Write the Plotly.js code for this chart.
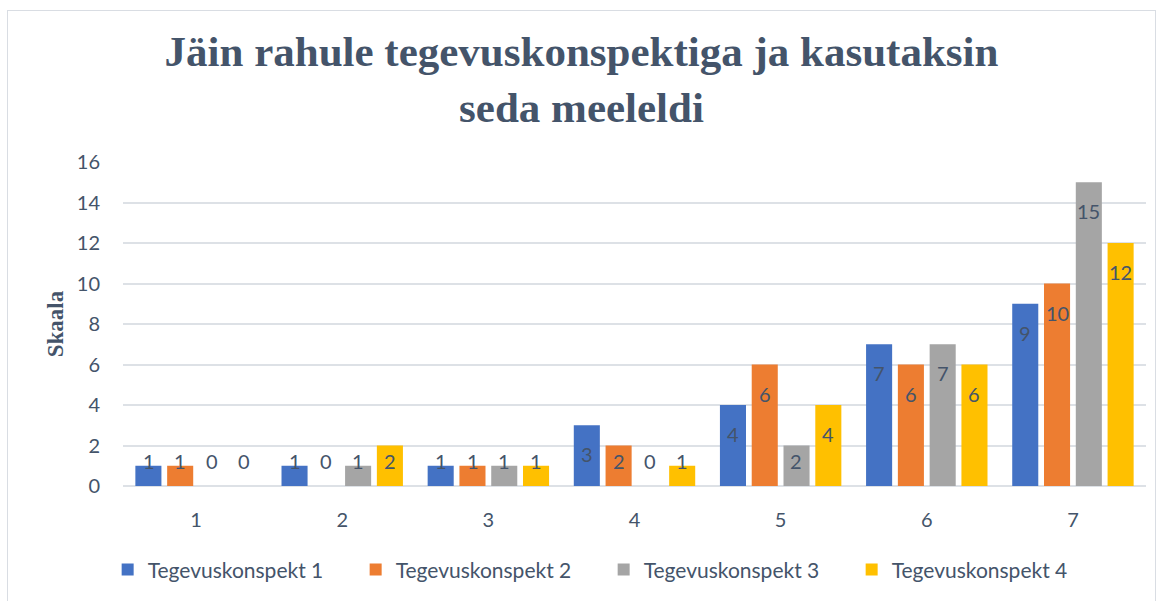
<!DOCTYPE html>
<html>
<head>
<meta charset="utf-8">
<script src="https://cdn.plot.ly/plotly-3.0.1.min.js"></script>
<style>
html,body{margin:0;padding:0;background:#fff;}
#frame{position:absolute;left:7px;top:10px;width:1149px;height:600px;border:1px solid #d9dde3;box-sizing:border-box;}
#chart{position:absolute;left:0;top:0;width:1163px;height:601px;}
</style>
</head>
<body>
<div id="frame"></div>
<div id="chart"></div>
<script>
const categories = ['1','2','3','4','5','6','7'];
const seriesNames = ['Tegevuskonspekt 1','Tegevuskonspekt 2','Tegevuskonspekt 3','Tegevuskonspekt 4'];
const tk1 = [1,1,1,3,4,7,9];
const tk2 = [1,0,1,2,6,6,10];
const tk3 = [0,1,1,0,2,7,15];
const tk4 = [0,2,1,1,4,6,12];
const yTicks = [0,2,4,6,8,10,12,14,16];
const titleText = 'Jäin rahule tegevuskonspektiga ja kasutaksin<br>seda meeleldi';
const yTitle = 'Skaala';

const seriesValues = [tk1, tk2, tk3, tk4];
const colors = ['#4472c4','#ed7d31','#a5a5a5','#ffc000'];
const textColor = '#44546a';
const sansFont = 'Lato, "Open Sans", sans-serif';
const serifFont = '"Liberation Serif", "Times New Roman", serif';

const traces = seriesValues.map((vals, i) => ({
  type: 'bar',
  name: seriesNames[i],
  x: categories,
  y: vals,
  marker: {color: colors[i], line: {width: 0}},
  hoverinfo: 'x+y+name'
}));

// data labels (inside end, kept near the baseline for short bars)
const annotations = [];
const slotPx = 31.7;
seriesValues.forEach((vals, i) => {
  vals.forEach((v, j) => {
    annotations.push({
      x: j, y: Math.max(v, 2.66), xref: 'x', yref: 'y',
      text: String(v), showarrow: false,
      xshift: (i - 1.5) * slotPx, yshift: -29,
      yanchor: 'middle', xanchor: 'center',
      font: {family: sansFont, size: 20, color: textColor}
    });
  });
});

const layout = {
  width: 1163, height: 601,
  paper_bgcolor: 'rgba(0,0,0,0)',
  plot_bgcolor: 'rgba(0,0,0,0)',
  margin: {l: 123, r: 17, t: 162, b: 114},
  title: {
    text: titleText,
    x: 0.5, xref: 'container', xanchor: 'center',
    y: 0.89, yref: 'container', yanchor: 'top',
    font: {family: serifFont, size: 43, color: textColor, weight: 'bold'}
  },
  barmode: 'group',
  bargap: 0.13,
  bargroupgap: 0.18,
  xaxis: {
    type: 'category',
    range: [-0.5, 6.5],
    showgrid: false, zeroline: false, showline: false,
    ticks: '', ticklabelstandoff: 20,
    tickfont: {family: sansFont, size: 20, color: textColor}
  },
  yaxis: {
    range: [0, 16],
    tickvals: yTicks,
    showgrid: true, gridcolor: '#dde1e6', gridwidth: 2,
    zeroline: true, zerolinecolor: '#dde1e6', zerolinewidth: 2,
    showline: false, ticks: '', ticklabelstandoff: 22,
    tickfont: {family: sansFont, size: 20, color: textColor},
    title: {
      text: yTitle, standoff: 6,
      font: {family: serifFont, size: 23, color: textColor, weight: 'bold'}
    }
  },
  legend: {
    orientation: 'h',
    x: -0.015, xanchor: 'left',
    y: -0.255, yanchor: 'middle',
    entrywidth: 203, entrywidthmode: 'pixels',
    itemwidth: 30,
    font: {family: sansFont, size: 21, color: textColor},
    traceorder: 'normal'
  },
  annotations: annotations,
  showlegend: true
};

Plotly.newPlot('chart', traces, layout, {displayModeBar: false});
</script>
</body>
</html>
